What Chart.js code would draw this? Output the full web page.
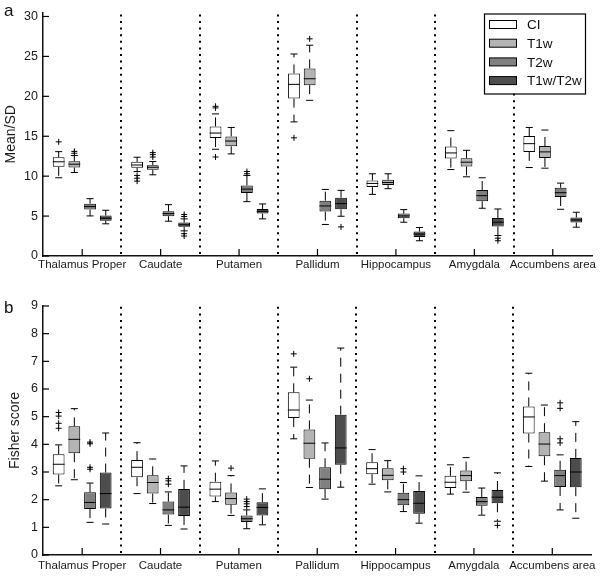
<!DOCTYPE html>
<html>
<head>
<meta charset="utf-8">
<script src="https://cdn.jsdelivr.net/npm/chart.js@4.4.0/dist/chart.umd.min.js"></script>
<style>
  body { margin: 0; background: #fff; }
  #wrap { position: relative; width: 600px; height: 577px; font-family: "Liberation Sans", Arial, sans-serif; }
  .panel { position: absolute; left: 0; width: 600px; }
  .tag { position: absolute; left: 4px; font-size: 17px; color: #111; line-height: 20px; }
</style>
</head>
<body>
<div id="wrap">
  <div class="panel" style="top:0;height:280px"><canvas id="chartA" width="600" height="280"></canvas></div>
  <div class="panel" style="top:280px;height:297px"><canvas id="chartB" width="600" height="297"></canvas></div>
  <div class="tag" style="top:1px">a</div>
  <div class="tag" style="top:298px">b</div>
</div>
<script>
"use strict";
const regions = ["Thalamus Proper", "Caudate", "Putamen", "Pallidum", "Hippocampus", "Amygdala", "Accumbens area"];
const methods = ["CI", "T1w", "T2w", "T1w/T2w"];
const fills = ['#ffffff', '#b4b4b4', '#808080', '#4d4d4d'];

// panel a: Mean/SD  (rows = methods, columns = regions)
const ticksA = [0, 5, 10, 15, 20, 25, 30];
const q1A = [
  [11.17, 11.05, 14.78, 19.72, 8.63, 12.2, 13.04],
  [11.08, 10.79, 13.74, 21.4, 8.88, 11.21, 12.29],
  [5.81, 4.98, 7.88, 5.56, 4.73, 6.85, 7.39],
  [4.4, 3.65, 5.31, 5.85, 2.37, 3.7, 4.2]
];
const medA = [
  [11.8, 11.4, 15.4, 21.5, 9.09, 12.91, 14.07],
  [11.5, 11.12, 14.4, 22.2, 9.2, 11.75, 13.04],
  [6.19, 5.31, 8.38, 6.27, 5.02, 7.56, 7.93],
  [4.73, 3.9, 5.6, 6.56, 2.74, 4.23, 4.52]
];
const q3A = [
  [12.37, 11.79, 16.23, 22.87, 9.46, 13.7, 15.03],
  [11.87, 11.37, 14.98, 23.5, 9.55, 12.24, 13.78],
  [6.56, 5.6, 8.84, 6.93, 5.31, 8.26, 8.55],
  [5.07, 4.19, 5.89, 7.3, 3.07, 4.77, 4.82]
];
const loA = [
  [9.8, 10.58, 13.37, 16.8, 7.72, 10.83, 11.08],
  [10.46, 10.17, 12.79, 19.5, 8.43, 9.92, 11.0],
  [5.02, 4.36, 6.81, 3.95, 4.23, 5.98, 5.85],
  [4.03, 3.15, 4.65, 4.98, 1.91, 2.57, 3.61]
];
const hiA = [
  [13.07, 12.37, 17.8, 25.3, 10.3, 15.7, 16.1],
  [12.58, 11.83, 16.1, 26.4, 10.3, 13.24, 15.78],
  [7.18, 6.43, 10.09, 8.34, 5.81, 9.8, 9.13],
  [5.73, 4.65, 6.52, 8.22, 3.57, 5.89, 5.48]
];
const outA = [
  [[14.3], [10.09, 9.75, 9.38], [18.75, 18.55, 12.4], [14.8], [], [], []],
  [[13.1, 12.87], [12.95, 12.7, 12.4], [], [27.2], [], [], []],
  [[], [], [10.58, 10.3], [], [], [], []],
  [[], [5.2, 4.95, 2.8, 2.5], [], [3.65], [], [2.24, 1.91], []]
];

// panel b: Fisher score
const ticksB = [0, 1, 2, 3, 4, 5, 6, 7, 8, 9];
const q1B = [
  [2.91, 2.81, 2.11, 4.95, 2.92, 2.42, 4.39],
  [3.68, 2.22, 1.82, 3.48, 2.7, 2.67, 3.57],
  [1.66, 1.46, 1.19, 2.38, 1.8, 1.78, 2.46],
  [1.68, 1.41, 1.43, 3.26, 1.49, 1.87, 2.45]
];
const medB = [
  [3.28, 3.17, 2.38, 5.24, 3.12, 2.63, 4.99],
  [4.18, 2.62, 2.04, 4.04, 2.88, 2.87, 4.01],
  [1.9, 1.63, 1.31, 2.74, 2.0, 1.93, 2.87],
  [2.22, 1.73, 1.72, 3.87, 1.87, 2.09, 3.0]
];
const q3B = [
  [3.64, 3.43, 2.65, 5.88, 3.35, 2.86, 5.37],
  [4.65, 2.88, 2.26, 4.54, 3.14, 3.05, 4.44],
  [2.27, 1.93, 1.43, 3.17, 2.25, 2.1, 3.08],
  [2.98, 2.39, 1.91, 5.07, 2.31, 2.35, 3.51]
];
const loB = [
  [2.5, 2.22, 1.93, 4.2, 2.56, 2.2, 3.2],
  [2.72, 1.86, 1.43, 2.44, 2.28, 2.27, 2.67],
  [1.18, 1.07, 0.95, 2.02, 1.57, 1.44, 1.63],
  [1.12, 0.94, 1.09, 2.45, 1.15, 1.22, 1.33]
];
const hiB = [
  [3.98, 4.06, 3.4, 6.79, 3.81, 3.26, 6.57],
  [5.29, 3.47, 2.87, 5.6, 3.41, 3.52, 5.42],
  [2.6, 2.28, 1.63, 4.05, 2.62, 2.42, 3.62],
  [4.41, 3.22, 2.39, 7.48, 2.86, 2.97, 4.82]
];
const outB = [
  [[5.15, 5.02, 4.76, 4.58], [], [], [7.27], [], [], []],
  [[], [], [3.14], [6.37], [], [], []],
  [[4.08, 4.02, 3.17, 3.1], [2.76, 2.68, 2.56], [2.02, 1.93, 1.85, 1.75], [], [3.12, 3.0], [], [5.5, 5.3, 4.2, 4.05]],
  [[], [], [], [], [], [1.07], []]
];

Chart.defaults.font.family = '"Liberation Sans", Arial, sans-serif';
Chart.defaults.color = '#1a1a1a';

function line(ctx, x1, y1, x2, y2) {
  ctx.beginPath();
  ctx.moveTo(x1, y1);
  ctx.lineTo(x2, y2);
  ctx.stroke();
}

// whiskers, medians, outliers, separators, inward ticks, legend
const boxExtras = {
  id: 'boxExtras',
  beforeDatasetsDraw(chart) {
    const {ctx, chartArea, scales: {x}} = chart;
    ctx.save();
    ctx.strokeStyle = '#000';
    ctx.lineWidth = 2;
    ctx.setLineDash([2, 4.6]);
    for (let k = 0; k < regions.length - 1; k++) {
      const px = Math.round(x.getPixelForValue(k + 0.5));
      line(ctx, px, chartArea.bottom - 2, px, chartArea.top);
    }
    ctx.restore();
  },
  afterDatasetsDraw(chart, args, opts) {
    const {ctx, chartArea, scales: {x, y}} = chart;
    ctx.save();
    ctx.strokeStyle = '#000';
    ctx.lineWidth = 1;
    chart.data.datasets.forEach((ds, i) => {
      chart.getDatasetMeta(i).data.forEach((bar, j) => {
        const bx = bar.x, w = bar.width, cap = w * 0.3;
        const top = y.getPixelForValue(ds.data[j][1]);
        const bot = y.getPixelForValue(ds.data[j][0]);
        const hi = y.getPixelForValue(ds.hi[j]);
        const lo = y.getPixelForValue(ds.lo[j]);
        ctx.setLineDash([9, 7]);
        line(ctx, bx, top, bx, hi);
        line(ctx, bx, bot, bx, lo);
        ctx.setLineDash([]);
        line(ctx, bx - cap, hi, bx + cap, hi);
        line(ctx, bx - cap, lo, bx + cap, lo);
        const m = y.getPixelForValue(ds.med[j]);
        line(ctx, bx - w / 2, m, bx + w / 2, m);
        ds.out[j].forEach(v => {
          const py = y.getPixelForValue(v);
          line(ctx, bx - 3, py, bx + 3, py);
          line(ctx, bx, py - 3, bx, py + 3);
        });
      });
    });
    // inward tick marks
    ctx.lineWidth = 1.2;
    y.ticks.forEach(t => {
      const py = y.getPixelForValue(t.value);
      line(ctx, chartArea.left, py, chartArea.left + 6, py);
    });
    regions.forEach((r, k) => {
      const px = x.getPixelForValue(k);
      line(ctx, px, chartArea.bottom, px, chartArea.bottom - 7);
    });
    if (opts.legend) {
      const lw = 101, lh = 80;
      const lx = chartArea.right - 7 - lw, ly = chartArea.top + 1;
      ctx.fillStyle = '#fff';
      ctx.fillRect(lx, ly, lw, lh);
      ctx.lineWidth = 1.2;
      ctx.strokeRect(lx + 0.5, ly + 0.5, lw, lh);
      ctx.lineWidth = 1;
      ctx.font = '13.5px "Liberation Sans", Arial, sans-serif';
      ctx.textBaseline = 'middle';
      chart.data.datasets.forEach((ds, i) => {
        const cy = ly + 11 + i * 18.7;
        ctx.fillStyle = ds.backgroundColor;
        ctx.fillRect(lx + 5.5, cy - 4, 27, 8);
        ctx.strokeRect(lx + 5.5, cy - 4, 27, 8);
        ctx.fillStyle = '#111';
        ctx.fillText(ds.label, lx + 43, cy + 1);
      });
    }
    ctx.restore();
  }
};

function makeSets(q1, med, q3, lo, hi, out) {
  return methods.map((m, i) => ({
    label: m,
    data: q1[i].map((v, j) => [v, q3[i][j]]),
    med: med[i],
    lo: lo[i],
    hi: hi[i],
    out: out[i],
    backgroundColor: fills[i],
    borderColor: '#000',
    borderWidth: 1,
    borderSkipped: false,
    categoryPercentage: 0.8,
    barPercentage: 0.75
  }));
}

function makeChart(id, sets, yMax, yTicks, yTitle, padTop, xHeight, labelPad, titlePad, legend) {
  return new Chart(document.getElementById(id).getContext('2d'), {
    type: 'bar',
    data: { labels: regions, datasets: sets },
    plugins: [boxExtras],
    options: {
      responsive: false,
      animation: false,
      layout: { padding: { top: padTop, right: 8, left: 0, bottom: 0 } },
      plugins: {
        legend: { display: false },
        tooltip: { enabled: false },
        boxExtras: { legend: legend }
      },
      scales: {
        x: {
          offset: true,
          grid: { display: false, drawTicks: false },
          border: { display: true, color: '#111', width: 1.5 },
          ticks: { font: { size: 11.5 }, padding: labelPad, maxRotation: 0, autoSkip: false },
          afterFit: s => { s.height = xHeight; }
        },
        y: {
          min: 0,
          max: yMax,
          grid: { display: false, drawTicks: false },
          border: { display: true, color: '#111', width: 1.5 },
          ticks: { font: { size: 12.5 }, padding: 5 },
          afterBuildTicks: s => { s.ticks = yTicks.map(v => ({ value: v })); },
          title: { display: true, text: yTitle, font: { size: 14 }, padding: { top: titlePad, bottom: 0 } },
          afterFit: s => { s.width = 43; }
        }
      }
    }
  });
}

makeChart('chartA', makeSets(q1A, medA, q3A, loA, hiA, outA), 30.5, ticksA, 'Mean/SD', 11, 24, 2, 3, true);
makeChart('chartB', makeSets(q1B, medB, q3B, loB, hiB, outB), 9, ticksB, 'Fisher score', 26, 22, 4, 7, false);
</script>
</body>
</html>
